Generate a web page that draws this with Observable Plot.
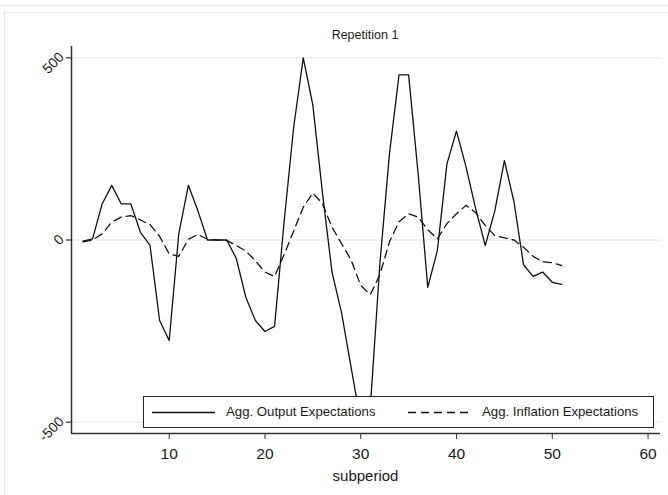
<!DOCTYPE html>
<html>
<head>
<meta charset="utf-8">
<script src="https://cdn.jsdelivr.net/npm/d3@7"></script>
<script src="https://cdn.jsdelivr.net/npm/@observablehq/plot@0.6"></script>
<style>
  html, body { margin: 0; padding: 0; background: #fff; }
  #wrap { position: relative; width: 668px; height: 495px; overflow: hidden; font-family: "Liberation Sans", Arial, sans-serif; color: #1a1a1a; }
  #chart { position: absolute; left: 0; top: 0; }
  .abs { position: absolute; white-space: nowrap; }
</style>
</head>
<body>
<div id="wrap">
  <div class="abs" style="left:0;top:5px;width:668px;height:1px;background:#ececec"></div>
  <div class="abs" style="left:4px;top:12px;width:700px;height:600px;border-left:1px solid #e6e6e6;border-top:1px solid #e6e6e6"></div>
  <div id="chart"></div>
  <div class="abs" id="title" style="left:0;width:730px;top:28px;text-align:center;font-size:12.5px;">Repetition 1</div>
  <div class="abs" id="xlabel" style="left:0;width:731px;top:467px;text-align:center;font-size:15px;">subperiod</div>
  <div class="abs" id="legend" style="left:143px;top:396px;width:509px;height:30px;background:#fff;border:1px solid #222;font-size:13.2px;">
    <svg class="abs" style="left:0;top:0" width="509" height="30">
      <line x1="8" x2="71" y1="15.5" y2="15.5" stroke="#111" stroke-width="1.3"></line>
      <line x1="264" x2="327" y1="15.5" y2="15.5" stroke="#111" stroke-width="1.3" stroke-dasharray="8,5"></line>
    </svg>
    <div class="abs" style="left:82px;top:7px;">Agg. Output Expectations</div>
    <div class="abs" style="left:338px;top:7px;">Agg. Inflation Expectations</div>
  </div>
</div>
<script>
const subperiod = [1,2,3,4,5,6,7,8,9,10,11,12,13,14,15,16,17,18,19,20,21,22,23,24,25,26,27,28,29,30,31,32,33,34,35,36,37,38,39,40,41,42,43,44,45,46,47,48,49,50,51];
const outputExp = [-3,3,99,150,99,99,21,-15,-221,-276,17,150,80,0,0,0,-50,-157,-221,-251,-237,50,310,500,370,130,-88,-200,-350,-500,-460,-65,237,453,453,180,-130,-29,209,299,200,86,-15,80,218,105,-68,-100,-88,-116,-122];
const inflationExp = [-5,0,17,49,63,67,55,42,10,-38,-45,2,15,2,0,-1,-15,-30,-57,-88,-100,-40,25,90,129,100,35,-10,-55,-125,-150,-95,-5,50,72,63,28,3,45,72,95,75,40,12,6,0,-20,-45,-60,-62,-70];
const xTicks = [10,20,30,40,50,60];
const yTicks = [-500,0,500];
const xDomain = [-0.2, 61.3];
const yDomain = [-531, 531];

const data = subperiod.map((s, i) => ({subperiod: s, output: outputExp[i], inflation: inflationExp[i]}));

const chart = Plot.plot({
  width: 668,
  height: 495,
  marginLeft: 71,
  marginRight: 8,
  marginTop: 46,
  marginBottom: 62,
  style: {fontFamily: "Liberation Sans, Arial, sans-serif", background: "transparent", color: "#1a1a1a", overflow: "visible"},
  x: {domain: xDomain},
  y: {domain: yDomain},
  marks: [
    Plot.gridY(yTicks, {stroke: "#e4e4e4", strokeOpacity: 1, strokeWidth: 1}),
    Plot.line(data, {x: "subperiod", y: "output", stroke: "#111", strokeWidth: 1.3}),
    Plot.line(data, {x: "subperiod", y: "inflation", stroke: "#111", strokeWidth: 1.3, strokeDasharray: "8,5"}),
    Plot.ruleX([xDomain[0]], {stroke: "#333", strokeWidth: 1.5}),
    Plot.ruleY([yDomain[0]], {stroke: "#333", strokeWidth: 1.5}),
    Plot.axisX(xTicks, {tickSize: 6, tickPadding: 8, fontSize: 15.5, label: null, stroke: "#333", tickFormat: d => String(d)}),
    Plot.axisY(yTicks, {tickSize: 5, label: null, stroke: "#333", strokeWidth: 1.2, tickFormat: () => ""}),
    Plot.axisY(yTicks, {tickSize: 0, tickPadding: 10, tickRotate: -45, fontSize: 14, label: null, tickFormat: d => String(d), dy: -3})
  ]
});
document.getElementById("chart").appendChild(chart);
</script>
</body>
</html>
